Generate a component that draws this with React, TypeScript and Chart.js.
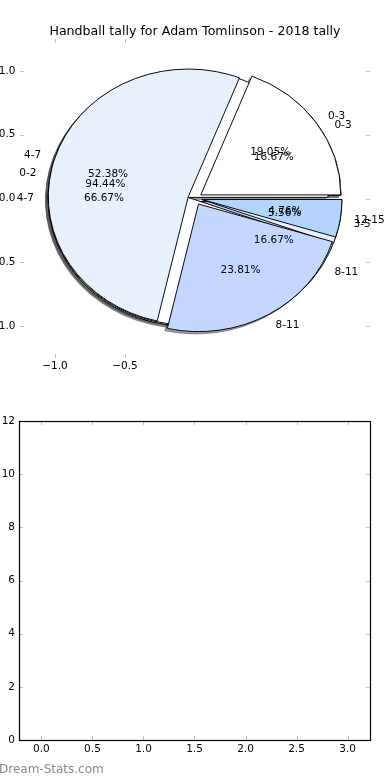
import React, { useEffect, useRef } from "react";
import { Chart, registerables } from "chart.js";

Chart.register(...registerables);

const TITLE = "Handball tally for Adam Tomlinson - 2018 tally";
const WATERMARK = "Dream-Stats.com";

// pie drawn on top
const pieALabels = ["0-3", "4-7", "8-11", "12-15"];
const pieAValues = [4, 11, 5, 1];
// middle pie
const pieBLabels = ["0-2", "3-5"];
const pieBValues = [17, 1];
// bottom pie
const pieCLabels = ["0-3", "4-7", "8-11"];
const pieCValues = [1, 4, 1];

const sliceColors = ["#FFFFFF", "#E9F0FD", "#C3D7FF", "#B3D4FF"];

const pieLimits = [-1.25, 1.25];
const pieXTicks = [-1.0, -0.5];
const pieYTicks = [-1.0, -0.5, 0.0, 0.5, 1.0];

const barXLimits = [-0.22, 3.22];
const barYLimits = [0, 12];
const barXTicks = [0, 0.5, 1, 1.5, 2, 2.5, 3];
const barYTicks = [0, 2, 4, 6, 8, 10, 12];

const FONT = '"DejaVu Sans", "Liberation Sans", sans-serif';
const EXPLODE = 0.05;
const PCT_DIST = 0.6;
const LABEL_DIST = 1.1;
const SHADOW_DX = -2.5;
const SHADOW_DY = 2.3;
const TICK_COLOR = "#c0c0c0";
const TICK_LEN = 4;

const fmt1 = (v: number) => (v < 0 ? "\u2212" : "") + Math.abs(v).toFixed(1);

const shade = (hex: string) => {
  const n = parseInt(hex.slice(1), 16);
  const r = Math.round(((n >> 16) & 255) * 0.3);
  const g = Math.round(((n >> 8) & 255) * 0.3);
  const b = Math.round((n & 255) * 0.3);
  return `rgba(${r},${g},${b},0.5)`;
};

export default function App() {
  const axesRef = useRef<HTMLCanvasElement | null>(null);
  const pieCRef = useRef<HTMLCanvasElement | null>(null);
  const pieBRef = useRef<HTMLCanvasElement | null>(null);
  const pieARef = useRef<HTMLCanvasElement | null>(null);
  const barRef = useRef<HTMLCanvasElement | null>(null);

  useEffect(() => {
    const topPad = { left: 20, right: 20, top: 39, bottom: 32 };
    const geo = { rx: 140, ry: 127.6 };
    const pies: Chart[] = [];

    const line = (ctx: CanvasRenderingContext2D, x1: number, y1: number, x2: number, y2: number) => {
      ctx.beginPath();
      ctx.moveTo(x1, y1);
      ctx.lineTo(x2, y2);
      ctx.stroke();
    };

    const pieTransform = (ctx: CanvasRenderingContext2D, arc: any) => {
      const mid = (arc.startAngle + arc.endAngle) / 2;
      const k = geo.ry / geo.rx;
      ctx.translate(arc.x, arc.y);
      ctx.scale(1, k);
      ctx.translate(-arc.x, -arc.y);
      const ex = EXPLODE * arc.outerRadius;
      ctx.translate(Math.cos(mid) * ex, Math.sin(mid) * ex);
    };

    const axesPlugin = {
      id: "pieAxes",
      afterDraw(chart: any) {
        const { ctx } = chart;
        const xs = chart.scales.x;
        const ys = chart.scales.y;
        const area = chart.chartArea;
        ctx.save();
        // shadows of all wedges (below all wedges)
        pies.forEach((p) => {
          const meta = p.getDatasetMeta(0);
          meta.data.forEach((arc: any) => {
            ctx.save();
            ctx.translate(SHADOW_DX, SHADOW_DY);
            pieTransform(ctx, arc);
            ctx.beginPath();
            ctx.moveTo(arc.x, arc.y);
            ctx.arc(arc.x, arc.y, arc.outerRadius, arc.startAngle, arc.endAngle);
            ctx.closePath();
            const c = shade(arc.options.backgroundColor);
            ctx.fillStyle = c;
            ctx.strokeStyle = c;
            ctx.lineWidth = 1;
            ctx.fill();
            ctx.stroke();
            ctx.restore();
          });
        });
        // ticks
        ctx.strokeStyle = TICK_COLOR;
        ctx.lineWidth = 1;
        pieYTicks.forEach((v) => {
          const py = Math.round(ys.getPixelForValue(v)) + 0.5;
          line(ctx, area.left, py, area.left + TICK_LEN, py);
          line(ctx, area.right, py, area.right - TICK_LEN, py);
        });
        pieXTicks.forEach((v) => {
          const px = Math.round(xs.getPixelForValue(v)) + 0.5;
          line(ctx, px, area.top, px, area.top + TICK_LEN);
          line(ctx, px, area.bottom, px, area.bottom - TICK_LEN);
        });
        // tick labels
        ctx.fillStyle = "#000";
        ctx.font = `10.5px ${FONT}`;
        ctx.textAlign = "right";
        ctx.textBaseline = "middle";
        pieYTicks.forEach((v) => {
          ctx.fillText(fmt1(v), area.left - 4.5, ys.getPixelForValue(v));
        });
        ctx.textAlign = "center";
        pieXTicks.forEach((v) => {
          ctx.fillText(fmt1(v), xs.getPixelForValue(v), area.bottom + 8);
        });
        // title
        ctx.font = `12.6px ${FONT}`;
        ctx.textBaseline = "alphabetic";
        ctx.fillText(TITLE, (area.left + area.right) / 2, 34.5);
        ctx.restore();
      },
    };

    const axes = new Chart(axesRef.current as HTMLCanvasElement, {
      type: "scatter",
      data: { datasets: [] },
      options: {
        responsive: false,
        animation: false,
        events: [],
        layout: { padding: topPad },
        plugins: { legend: { display: false }, tooltip: { enabled: false } },
        scales: {
          x: { type: "linear", display: false, min: pieLimits[0], max: pieLimits[1] },
          y: { type: "linear", display: false, min: pieLimits[0], max: pieLimits[1] },
        },
      },
      plugins: [axesPlugin],
    } as any);

    geo.rx = axes.scales.x.getPixelForValue(1) - axes.scales.x.getPixelForValue(0);
    geo.ry = axes.scales.y.getPixelForValue(0) - axes.scales.y.getPixelForValue(1);

    const pieDrawPlugin = {
      id: "ellipsePie",
      beforeDatasetDraw(chart: any, args: any) {
        const ctx = chart.ctx;
        args.meta.data.forEach((arc: any) => {
          ctx.save();
          pieTransform(ctx, arc);
          arc.draw(ctx);
          ctx.restore();
        });
        return false;
      },
    };

    const labelPlugin = {
      id: "pieLabels",
      afterDraw(chart: any) {
        const ctx = chart.ctx;
        ctx.save();
        ctx.fillStyle = "#000";
        ctx.font = `10.5px ${FONT}`;
        ctx.textBaseline = "middle";
        [...pies, chart].forEach((p: any) => {
          const meta = p.getDatasetMeta(0);
          const labels = p.data.labels as string[];
          const vals = p.data.datasets[0].data as number[];
          const total = vals.reduce((a, b) => a + b, 0);
          meta.data.forEach((arc: any, i: number) => {
            const mid = (arc.startAngle + arc.endAngle) / 2;
            const c = Math.cos(mid);
            const s = Math.sin(mid);
            const ox = arc.x + c * EXPLODE * geo.rx;
            const oy = arc.y + s * EXPLODE * geo.ry;
            ctx.textAlign = "center";
            ctx.fillText(((vals[i] / total) * 100).toFixed(2) + "%", ox + PCT_DIST * geo.rx * c, oy + PCT_DIST * geo.ry * s);
            ctx.textAlign = c > 0 ? "left" : "right";
            ctx.fillText(labels[i], ox + LABEL_DIST * geo.rx * c, oy + LABEL_DIST * geo.ry * s);
          });
        });
        ctx.restore();
      },
    };

    const makePie = (canvas: HTMLCanvasElement, labels: string[], values: number[], extra: any[]) =>
      new Chart(canvas, {
        type: "pie",
        data: {
          labels: [...labels].reverse(),
          datasets: [
            {
              data: [...values].reverse(),
              backgroundColor: sliceColors.slice(0, values.length).reverse(),
              borderColor: "#000000",
              borderWidth: 1,
              radius: geo.rx,
            },
          ],
        },
        options: {
          responsive: false,
          animation: false,
          events: [],
          rotation: 90,
          radius: geo.rx,
          layout: { padding: topPad },
          plugins: { legend: { display: false }, tooltip: { enabled: false } },
        },
        plugins: [pieDrawPlugin, ...extra],
      } as any);

    pies.push(makePie(pieCRef.current as HTMLCanvasElement, pieCLabels, pieCValues, []));
    pies.push(makePie(pieBRef.current as HTMLCanvasElement, pieBLabels, pieBValues, []));
    const pieA = makePie(pieARef.current as HTMLCanvasElement, pieALabels, pieAValues, [labelPlugin]);
    axes.draw();
    pies.push(pieA);
    axes.draw();

    const barPlugin = {
      id: "barAxes",
      afterDraw(chart: any) {
        const { ctx } = chart;
        const xs = chart.scales.x;
        const ys = chart.scales.y;
        const a = chart.chartArea;
        ctx.save();
        ctx.strokeStyle = TICK_COLOR;
        ctx.lineWidth = 1;
        barYTicks.forEach((v) => {
          const py = Math.round(ys.getPixelForValue(v)) + 0.5;
          line(ctx, a.left, py, a.left + TICK_LEN, py);
          line(ctx, a.right, py, a.right - TICK_LEN, py);
        });
        barXTicks.forEach((v) => {
          const px = Math.round(xs.getPixelForValue(v)) + 0.5;
          line(ctx, px, a.top, px, a.top + TICK_LEN);
          line(ctx, px, a.bottom, px, a.bottom - TICK_LEN);
        });
        ctx.strokeStyle = "#000";
        ctx.lineWidth = 1.2;
        ctx.strokeRect(Math.round(a.left) + 0.5, Math.round(a.top) + 0.5, Math.round(a.right - a.left), Math.round(a.bottom - a.top));
        ctx.fillStyle = "#000";
        ctx.font = `10.5px ${FONT}`;
        ctx.textAlign = "right";
        ctx.textBaseline = "middle";
        barYTicks.forEach((v) => {
          ctx.fillText(String(v), a.left - 4, ys.getPixelForValue(v));
        });
        ctx.textAlign = "center";
        barXTicks.forEach((v) => {
          ctx.fillText(v.toFixed(1), xs.getPixelForValue(v), a.bottom + 9);
        });
        ctx.fillStyle = "#8a8a8a";
        ctx.font = `12px ${FONT}`;
        ctx.textAlign = "left";
        ctx.fillText(WATERMARK, -1, 380);
        ctx.restore();
      },
    };

    const bar = new Chart(barRef.current as HTMLCanvasElement, {
      type: "scatter",
      data: { datasets: [] },
      options: {
        responsive: false,
        animation: false,
        events: [],
        layout: { padding: { left: 19, right: 20, top: 31, bottom: 40 } },
        plugins: { legend: { display: false }, tooltip: { enabled: false } },
        scales: {
          x: { type: "linear", display: false, min: barXLimits[0], max: barXLimits[1] },
          y: { type: "linear", display: false, min: barYLimits[0], max: barYLimits[1] },
        },
      },
      plugins: [barPlugin],
    } as any);

    return () => {
      bar.destroy();
      pies.forEach((p) => p.destroy());
      axes.destroy();
    };
  }, []);

  const layer: React.CSSProperties = { position: "absolute", left: 0, top: 0, display: "block" };

  return (
    <div style={{ position: "absolute", left: 0, top: 0, width: 390, height: 780, background: "#fff", overflow: "hidden" }}>
      <canvas ref={axesRef} width={390} height={390} style={layer} />
      <canvas ref={pieCRef} width={390} height={390} style={layer} />
      <canvas ref={pieBRef} width={390} height={390} style={layer} />
      <canvas ref={pieARef} width={390} height={390} style={layer} />
      <canvas ref={barRef} width={390} height={390} style={{ ...layer, top: 390 }} />
    </div>
  );
}
